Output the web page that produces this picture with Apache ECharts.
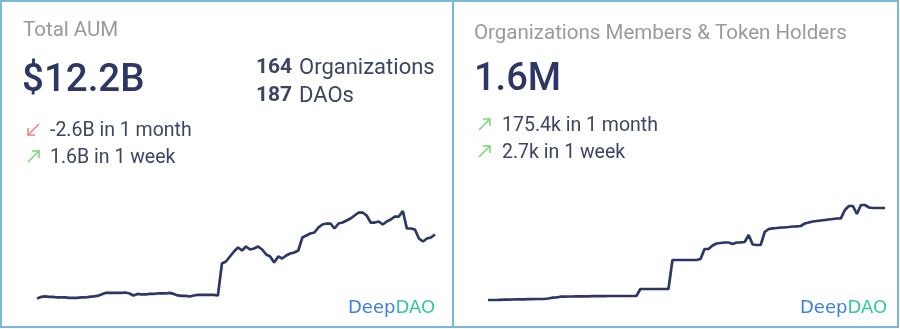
<!DOCTYPE html>
<html>
<head>
<meta charset="utf-8">
<script src="https://cdn.jsdelivr.net/npm/echarts@6/dist/echarts.min.js"></script>
<style>
  html, body { margin: 0; padding: 0; background: #ffffff; }
  #chart { width: 900px; height: 329px; }
</style>
</head>
<body>
<div id="chart"></div>
<script>
// Total AUM history, in billions of USD (daily samples, oldest first)
const aumValues = [
  5.16, 5.33, 5.38, 5.33, 5.33, 5.27, 5.27, 5.27, 5.22, 5.22,
  5.22, 5.27, 5.27, 5.33, 5.38, 5.44, 5.60, 5.77, 5.77, 5.77,
  5.77, 5.77, 5.82, 5.71, 5.49, 5.66, 5.60, 5.60, 5.66, 5.66,
  5.71, 5.71, 5.71, 5.77, 5.66, 5.49, 5.44, 5.44, 5.38, 5.49,
  5.55, 5.55, 5.55, 5.55, 5.55, 5.49, 9.01, 9.23, 9.78, 10.33,
  10.77, 10.44, 10.88, 10.55, 10.66, 10.88, 10.55, 10.00, 9.78, 9.12,
  9.78, 9.56, 9.89, 10.11, 10.22, 10.44, 11.87, 12.09, 12.31, 12.42,
  12.97, 13.30, 13.41, 13.41, 12.86, 13.41, 13.52, 13.74, 13.96, 14.29,
  14.62, 14.62, 14.29, 13.52, 13.52, 13.63, 13.30, 13.63, 13.85, 14.18,
  14.18, 14.79, 12.86, 12.86, 12.75, 11.76, 11.43, 11.76, 11.87, 12.20
];

// Organization members & token holders, in thousands (same sampling)
const memberValues = [
  680, 680, 680, 682, 683, 684, 685, 686, 687, 687,
  688, 689, 690, 690, 690, 695, 703, 705, 713, 714,
  715, 715, 716, 716, 717, 717, 718, 718, 719, 719,
  720, 720, 720, 720, 720, 720, 720, 720, 790, 790,
  790, 790, 790, 790, 790, 790, 1080, 1080, 1080, 1080,
  1080, 1080, 1080, 1090, 1190, 1190, 1225, 1245, 1250, 1255,
  1255, 1240, 1255, 1257, 1260, 1330, 1235, 1230, 1230, 1360,
  1390, 1397, 1400, 1405, 1407, 1410, 1415, 1417, 1420, 1445,
  1455, 1465, 1470, 1475, 1480, 1485, 1490, 1495, 1497, 1580,
  1620, 1620, 1540, 1630, 1630, 1605, 1600, 1600, 1600, 1600
];

const aumDays = aumValues.map((_, i) => i);
const memberDays = memberValues.map((_, i) => i);

const NAVY = '#2c3766';
const BORDER = '#7db7d6';
const GREY = '#9a9a9a';
const TEXT = '#3d4563';
const FONT = 'Roboto, "Noto Sans", sans-serif';

function arrowUp(x, y) {
  return [
    { type: 'polyline', shape: { points: [[x, y + 11], [x + 11, y]] }, style: { stroke: '#73d673', lineWidth: 1.5, fill: null } },
    { type: 'polyline', shape: { points: [[x + 4, y], [x + 11, y], [x + 11, y + 7]] }, style: { stroke: '#73d673', lineWidth: 1.5, fill: null } }
  ];
}
function arrowDown(x, y) {
  return [
    { type: 'polyline', shape: { points: [[x + 11, y], [x, y + 11]] }, style: { stroke: '#ef7f7f', lineWidth: 1.5, fill: null } },
    { type: 'polyline', shape: { points: [[x, y + 4], [x, y + 11], [x + 7, y + 11]] }, style: { stroke: '#ef7f7f', lineWidth: 1.5, fill: null } }
  ];
}
function label(text, x, y, size, color, weight) {
  return { type: 'text', style: { text: text, x: x, y: y, font: (weight || 'normal') + ' ' + size + 'px ' + FONT, fill: color, textVerticalAlign: 'middle' } };
}
function logo(x, y) {
  return {
    type: 'text',
    style: {
      x: x, y: y, textVerticalAlign: 'middle',
      text: '{a|Deep}{b|DAO}',
      rich: {
        a: { fontSize: 18, fontFamily: '"DejaVu Sans", sans-serif', fill: '#3b7fe0' },
        b: { fontSize: 18, fontFamily: '"DejaVu Sans", sans-serif', fill: '#35c6a6' }
      }
    }
  };
}

const chart = echarts.init(document.getElementById('chart'), null, { renderer: 'canvas' });

chart.setOption({
  animation: false,
  backgroundColor: '#ffffff',
  grid: [
    { left: 37, width: 398, top: 200, height: 109 },
    { left: 488, width: 397, top: 188, height: 130 }
  ],
  xAxis: [
    { type: 'category', gridIndex: 0, data: aumDays, boundaryGap: false, show: false },
    { type: 'category', gridIndex: 1, data: memberDays, boundaryGap: false, show: false }
  ],
  yAxis: [
    { type: 'value', gridIndex: 0, min: 4, max: 16, show: false },
    { type: 'value', gridIndex: 1, min: 500, max: 1800, show: false }
  ],
  series: [
    {
      type: 'line', xAxisIndex: 0, yAxisIndex: 0, data: aumValues,
      showSymbol: false, lineStyle: { color: NAVY, width: 2.7 }
    },
    {
      type: 'line', xAxisIndex: 1, yAxisIndex: 1, data: memberValues,
      showSymbol: false, lineStyle: { color: NAVY, width: 2.7 }
    }
  ],
  graphic: [
    { type: 'rect', shape: { x: 1, y: 1, width: 452, height: 326 }, style: { fill: null, stroke: BORDER, lineWidth: 2 } },
    { type: 'rect', shape: { x: 453, y: 1, width: 445, height: 326 }, style: { fill: null, stroke: BORDER, lineWidth: 2 } },

    label('Total AUM', 23, 31, 20.5, GREY),
    label('$12.2B', 22, 81, 38.5, NAVY, '500'),
    label('164', 256, 68, 21, TEXT, 'bold'),
    label('Organizations', 299, 68, 22, TEXT),
    label('187', 256, 96, 21, TEXT, 'bold'),
    label('DAOs', 299, 96, 22, TEXT),
    ...arrowDown(28, 124),
    label('-2.6B in 1 month', 50, 131, 19.5, TEXT),
    ...arrowUp(28, 151),
    label('1.6B in 1 week', 50, 158, 19.5, TEXT),
    logo(348, 308),

    label('Organizations Members & Token Holders', 474, 34, 20.5, GREY),
    label('1.6M', 474, 80, 38, NAVY, '500'),
    ...arrowUp(479, 119),
    label('175.4k in 1 month', 502, 126, 19.5, TEXT),
    ...arrowUp(479, 146),
    label('2.7k in 1 week', 502, 153, 19.5, TEXT),
    logo(800, 308)
  ]
});
</script>
</body>
</html>
